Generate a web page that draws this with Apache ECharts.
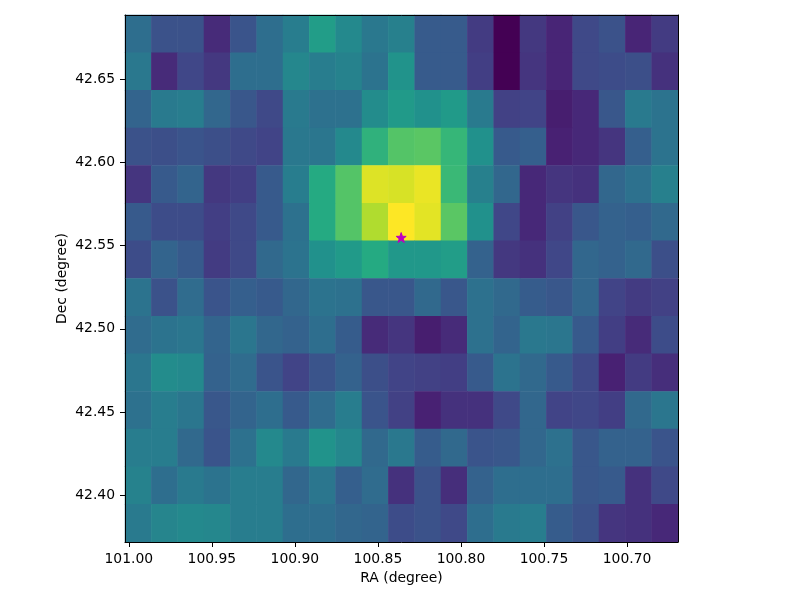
<!DOCTYPE html>
<html><head><meta charset="utf-8">
<style>html,body{margin:0;padding:0;background:#fff}#c{width:800px;height:600px}</style>
<script src="https://cdn.jsdelivr.net/npm/echarts@6/dist/echarts.min.js"></script>
</head><body><div id="c"></div>
<script>
const raCells=["100.994","100.979","100.963","100.947","100.931","100.915","100.899","100.883","100.868","100.852","100.836","100.820","100.804","100.788","100.772","100.757","100.741","100.725","100.709","100.693","100.677"];
const decCells=["42.677","42.655","42.632","42.609","42.587","42.564","42.541","42.519","42.496","42.473","42.451","42.428","42.406","42.383"];
const row00=[.36,.25,.25,.12,.26,.36,.42,.55,.47,.40,.43,.285,.285,.17,0,.16,.10,.22,.25,.10,.17];
const row01=[.40,.12,.21,.16,.36,.36,.46,.42,.44,.38,.51,.285,.285,.18,0,.15,.10,.22,.23,.24,.14];
const row02=[.32,.41,.42,.33,.27,.22,.41,.37,.37,.48,.54,.50,.54,.41,.19,.20,.08,.11,.27,.41,.38];
const row03=[.25,.24,.26,.24,.22,.20,.40,.39,.47,.64,.73,.74,.66,.50,.28,.30,.09,.11,.15,.30,.38];
const row04=[.15,.28,.32,.16,.18,.28,.42,.61,.73,.95,.94,.97,.67,.43,.33,.11,.15,.14,.33,.37,.43];
const row05=[.28,.23,.23,.18,.22,.28,.37,.61,.73,.88,1,.96,.74,.50,.21,.11,.19,.27,.31,.30,.34];
const row06=[.23,.32,.28,.17,.22,.34,.38,.50,.54,.61,.53,.53,.55,.31,.16,.14,.21,.33,.31,.34,.24];
const row07=[.38,.25,.35,.26,.30,.28,.33,.38,.37,.27,.27,.34,.27,.37,.34,.29,.27,.33,.20,.17,.19];
const row08=[.35,.38,.39,.32,.39,.33,.31,.36,.29,.12,.15,.08,.12,.37,.32,.40,.39,.28,.18,.12,.23];
const row09=[.39,.48,.47,.31,.35,.26,.20,.26,.31,.24,.20,.19,.18,.28,.38,.34,.28,.22,.09,.17,.13];
const row10=[.37,.42,.39,.27,.32,.36,.28,.35,.42,.26,.19,.09,.14,.14,.22,.33,.20,.21,.18,.34,.39];
const row11=[.42,.42,.34,.26,.37,.47,.41,.51,.46,.34,.40,.29,.34,.26,.27,.33,.37,.27,.31,.31,.26];
const row12=[.44,.36,.41,.38,.42,.42,.33,.39,.30,.35,.14,.25,.13,.31,.36,.36,.36,.27,.28,.14,.22];
const row13=[.41,.45,.47,.46,.42,.42,.36,.36,.33,.32,.23,.25,.22,.36,.41,.42,.29,.25,.15,.14,.11];
const rows=[row00,row01,row02,row03,row04,row05,row06,row07,row08,row09,row10,row11,row12,row13];
const raTicks=[101.00,100.95,100.90,100.85,100.80,100.75,100.70];
const decTicks=[42.40,42.45,42.50,42.55,42.60,42.65];
const raRange=[100.6693,101.0023];
const decRange=[42.3719,42.6885];
const starPoint=[100.836,42.5548];
const viridis=['#440154','#482576','#414487','#355f8d','#2a788e','#21918c','#22a884','#44bf70','#7ad151','#bddf26','#fde725'];
const cells=[];
rows.forEach((r,y)=>r.forEach((v,x)=>cells.push([x,y,v])));
const txt={color:'#000',fontFamily:'DejaVu Sans',fontSize:13.9};
const line={show:true,onZero:false,lineStyle:{color:'#000',width:1}};
const fmt=v=>Number(v).toFixed(2);
const star='path://M0,-50 L11.8,-16.2 L47.6,-15.5 L19,6.2 L29.4,40.5 L0,20 L-29.4,40.5 L-19,6.2 L-47.6,-15.5 L-11.8,-16.2 Z';
const chart=echarts.init(document.getElementById('c'),null,{renderer:'canvas'});
chart.setOption({
 animation:false,backgroundColor:'#fff',
 grid:{left:125,right:122,top:15,bottom:58,containLabel:false},
 xAxis:[
  {type:'category',data:raCells,position:'top',z:5,boundaryGap:true,axisLine:line,axisTick:{show:false},axisLabel:{show:false},splitLine:{show:false}},
  {type:'value',position:'bottom',inverse:true,min:raRange[0],max:raRange[1],z:5,axisLine:line,splitLine:{show:false},
   axisTick:{show:true,length:5,customValues:raTicks,lineStyle:{color:'#000',width:1}},
   axisLabel:{show:true,customValues:raTicks,formatter:fmt,margin:10,...txt},
   name:'RA (degree)',nameLocation:'middle',nameGap:29,nameMoveOverlap:false,nameTextStyle:txt}
 ],
 yAxis:[
  {type:'category',data:decCells,inverse:true,position:'right',z:5,boundaryGap:true,axisLine:line,axisTick:{show:false},axisLabel:{show:false},splitLine:{show:false}},
  {type:'value',position:'left',min:decRange[0],max:decRange[1],z:5,axisLine:line,splitLine:{show:false},
   axisTick:{show:true,length:5,customValues:decTicks,lineStyle:{color:'#000',width:1}},
   axisLabel:{show:true,customValues:decTicks,formatter:fmt,margin:10,padding:[2,0,0,0],...txt},
   name:'Dec (degree)',nameLocation:'middle',nameGap:56,nameMoveOverlap:false,nameTextStyle:txt}
 ],
 visualMap:{show:false,min:0,max:1,seriesIndex:0,inRange:{color:viridis}},
 series:[
  {type:'heatmap',xAxisIndex:0,yAxisIndex:0,data:cells,progressive:0,emphasis:{disabled:true},itemStyle:{borderWidth:0}},
  {type:'scatter',xAxisIndex:1,yAxisIndex:1,data:[starPoint],symbol:star,symbolSize:10,itemStyle:{color:'#bf00bf',borderColor:'#bf00bf',borderWidth:1,opacity:1},z:6,silent:true}
 ]
});
</script></body></html>
